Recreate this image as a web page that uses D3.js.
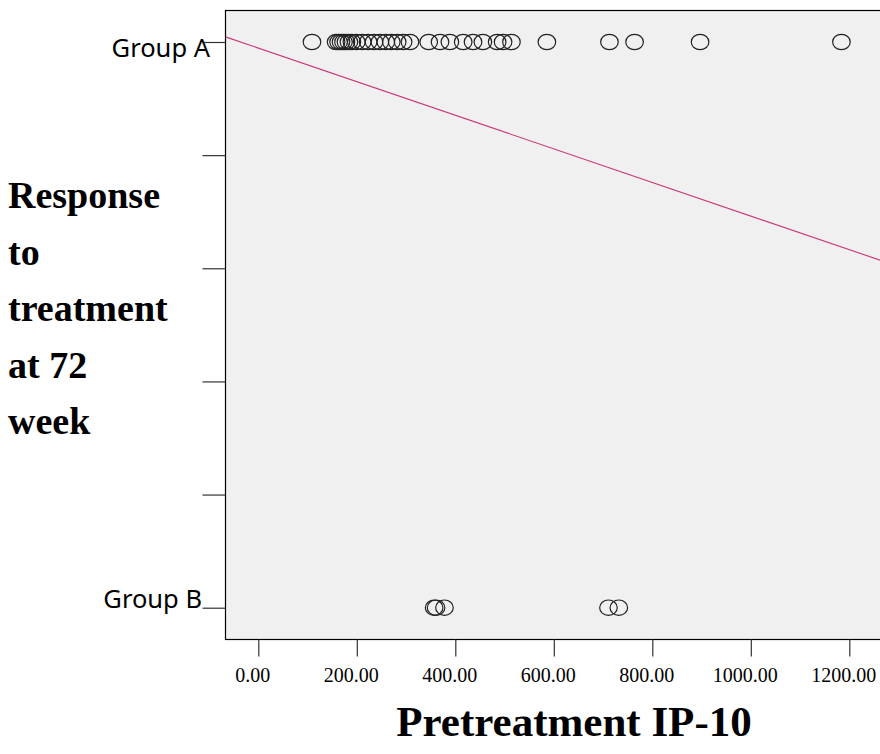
<!DOCTYPE html>
<html><head><meta charset="utf-8">
<script src="https://cdn.jsdelivr.net/npm/d3@7"></script>
<style>body{margin:0;background:#fff}</style>
</head><body>
<script>
// ---- data ----
const groupLabels = ["Group A", "Group B"];
const groupCodes = [1, 0];
const groupAValues = [109, 158, 163, 168, 173, 178, 184, 190, 199, 211, 223, 235, 247, 259, 270, 282, 294, 308, 346, 369, 389, 416, 436, 456, 485, 497, 514, 586, 713, 764, 897, 1184];
const groupBValues = [357, 361, 378, 711, 732];
const xTickValues = [0, 200, 400, 600, 800, 1000, 1200];
const yTickValues = [0, 0.2, 0.4, 0.6, 0.8, 1.0];
const fitIntercept = [0.9893];
const fitSlope = [-0.000297];
const xTitle = "Pretreatment IP-10";
const yTitleLines = ["Response", "to", "treatment", "at 72", "week"];

// ---- layout ----
const W = 880, H = 754;
const plotL = 225.5, plotR = 882, plotT = 10.5, plotB = 639.5;

const svg = d3.select("body").append("svg").attr("width", W).attr("height", H);

const x = d3.scaleLinear().domain([0, 1200]).range([258.3, 849.3]);
const y = d3.scaleLinear().domain([0, 1]).range([607.7, 42]);

// plot background
svg.append("rect").attr("x", plotL).attr("y", plotT)
  .attr("width", plotR - plotL).attr("height", plotB - plotT)
  .attr("fill", "#f0f0f0").attr("stroke", "#000").attr("stroke-width", 1.2);

svg.append("clipPath").attr("id", "clip").append("rect")
  .attr("x", plotL).attr("y", plotT).attr("width", plotR - plotL).attr("height", plotB - plotT);

// y axis ticks
const yAxis = d3.axisLeft(y).tickValues(yTickValues).tickSize(23).tickFormat("");
const gy = svg.append("g").attr("transform", `translate(${plotL},0)`).call(yAxis);
gy.select(".domain").remove();
gy.selectAll(".tick line").attr("stroke", "#333").attr("stroke-width", 1.2);

// group labels
const labelEnd = {1: 210, 0: 202};
const labelBase = {1: 57, 0: 608};
svg.selectAll("text.grp").data(groupCodes).enter().append("text")
  .attr("class", "grp")
  .attr("x", d => labelEnd[d]).attr("y", d => labelBase[d])
  .attr("text-anchor", "end")
  .attr("font-family", "Noto Sans, sans-serif").attr("font-size", 25.5)
  .attr("fill", "#000")
  .text((d, i) => groupLabels[i]);

// x axis
const xAxis = d3.axisBottom(x).tickValues(xTickValues).tickSize(17).tickFormat(d3.format(".2f"));
const gx = svg.append("g").attr("transform", `translate(0,${plotB})`).call(xAxis);
gx.select(".domain").remove();
gx.selectAll(".tick line").attr("stroke", "#333").attr("stroke-width", 1.2);
gx.selectAll(".tick text").attr("font-family", "Liberation Serif, Times New Roman, serif")
  .attr("font-size", 20).attr("fill", "#000").attr("dx", -6).attr("y", 28);

// fit line
const plot = svg.append("g").attr("clip-path", "url(#clip)");
const xd = [x.invert(plotL), x.invert(plotR)];
plot.append("line")
  .attr("x1", x(xd[0])).attr("y1", y(fitIntercept[0] + fitSlope[0] * xd[0]))
  .attr("x2", x(xd[1])).attr("y2", y(fitIntercept[0] + fitSlope[0] * xd[1]))
  .attr("stroke", "#cc3377").attr("stroke-width", 1.1);

// points
const pts = groupAValues.map(v => ({x: v, g: 1})).concat(groupBValues.map(v => ({x: v, g: 0})));
plot.selectAll("ellipse").data(pts).enter().append("ellipse")
  .attr("cx", d => x(d.x)).attr("cy", d => y(d.g))
  .attr("rx", 8.8).attr("ry", 7.7)
  .attr("fill", "none").attr("stroke", "#222").attr("stroke-width", 1.2);

// titles
svg.append("text").attr("x", 574).attr("y", 736).attr("text-anchor", "middle")
  .attr("font-family", "Liberation Serif, Times New Roman, serif").attr("font-weight", "bold")
  .attr("font-size", 43).attr("fill", "#000").text(xTitle);

svg.append("text").selectAll("tspan").data(yTitleLines).enter().append("tspan")
  .attr("x", 8).attr("y", (d, i) => 208 + i * 56.5)
  .attr("font-family", "Liberation Serif, Times New Roman, serif").attr("font-weight", "bold")
  .attr("font-size", 38).attr("fill", "#000").text(d => d);
</script>
</body></html>
